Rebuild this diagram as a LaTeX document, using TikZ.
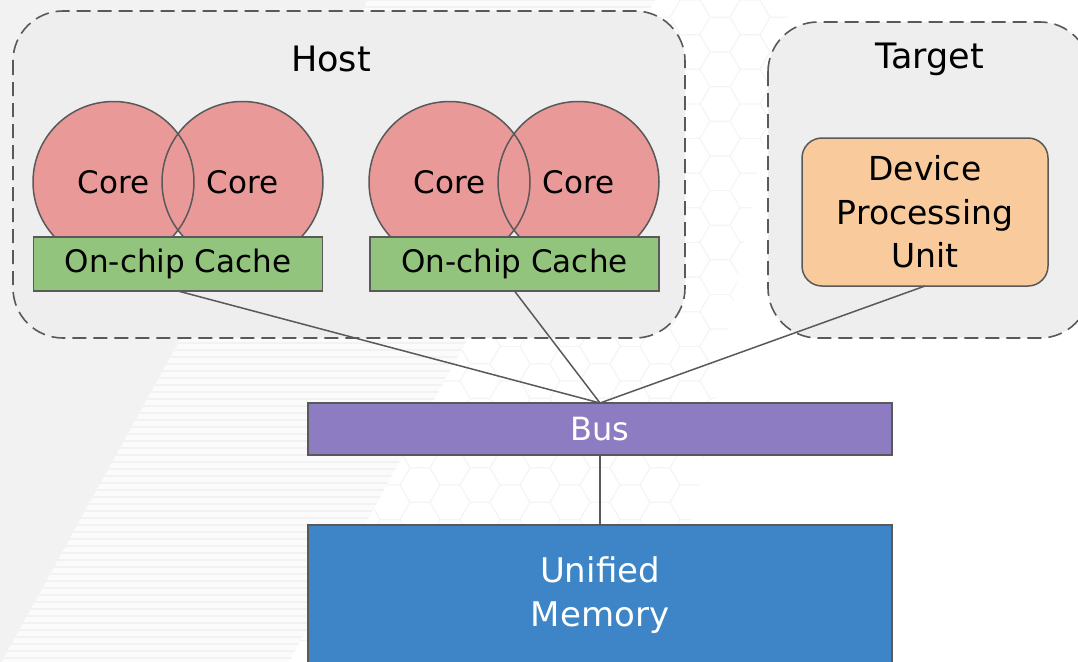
\documentclass[tikz,border=0pt]{standalone}
\usepackage{fontspec}
\setmainfont{DejaVu Sans}
\begin{document}
\begin{tikzpicture}[x=1pt,y=-1pt,
  edge/.style={draw=linegray,line width=1.5pt},
  group/.style={draw=linegray,fill=groupfill,line width=1.6pt,
    dash pattern=on 14pt off 7pt,rounded corners=50pt},
  core/.style={circle,fill=corefill,
    minimum size=161pt,inner sep=0pt,outer sep=0pt},
  corelabel/.style={font=\fontsize{31}{36}\selectfont},
  coreline/.style={draw=linegray,line width=1.5pt},
  cache/.style={rectangle,draw=linegray,fill=cachefill,line width=1.5pt,
    minimum width=289pt,minimum height=54pt,inner sep=0pt,outer sep=0pt,
    font=\fontsize{31}{36}\selectfont},
  title/.style={font=\fontsize{35}{40}\selectfont},
  hexline/.style={draw=hexgray,line width=0.8pt}
]
\definecolor{linegray}{HTML}{595959}
\definecolor{groupfill}{HTML}{EEEEEE}
\definecolor{corefill}{HTML}{EA9999}
\definecolor{cachefill}{HTML}{93C47D}
\definecolor{busfill}{HTML}{8E7CC3}
\definecolor{memfill}{HTML}{3D85C6}
\definecolor{dpufill}{HTML}{F9CB9C}
\definecolor{leftgray}{HTML}{F1F2F1}
\definecolor{stripegray}{HTML}{F2F2F2}
\definecolor{hexgray}{HTML}{F4F4F4}

\useasboundingbox (0,0) rectangle (1078,661);
\fill[white] (0,0) rectangle (1078,661);

% background: grey wedge, striped band, faint honeycomb
\fill[leftgray] (0,0) -- (368,0) -- (0,665) -- cycle;
\begin{scope}
  \clip (368,0) -- (655,0) -- (287,665) -- (0,665) -- cycle;
  \fill[white!70!stripegray] (0,0) rectangle (700,665);
  \foreach \k in {0,...,95} {
    \draw[stripegray,line width=2.5pt] (0,7*\k) -- (700,7*\k);
  }
\end{scope}
\begin{scope}
  \clip (655,0) -- (790,0) -- (665,665) -- (287,665) -- cycle;
  \foreach \i in {0,...,20} {
    \foreach \j in {-1,...,20} {
      \pgfmathsetmacro\cx{240+30*\i}
      \pgfmathsetmacro\cy{34.64*\j+17.32*mod(\i,2)}
      \draw[hexline] (\cx+20,\cy) -- ++(-10,17.32) -- ++(-20,0)
        -- ++(-10,-17.32) -- ++(10,-17.32) -- ++(20,0) -- cycle;
    }
  }
\end{scope}

% host and target groups
\draw[group] (13,11) rectangle (685,338);
\draw[group] (768,22) rectangle (1090,338);
\node[title] (host) at (331,59) {Host};
\node[title] (target) at (930,59) {Target};

% CPU packages: two overlapping cores resting on a shared cache
\node[core] (c1) at (113.5,182) {};
\node[core] (c2) at (242.5,182) {};
\node[core] (c3) at (449.5,182) {};
\node[core] (c4) at (578.5,182) {};
\foreach \c in {c1,c2,c3,c4} {
  \draw[coreline] (\c.center) circle[radius=80.5pt];
  \node[corelabel] (\c-label) at (\c.center) {Core};
}
\node[cache] (cache1) at (178,264) {On-chip Cache};
\node[cache] (cache2) at (514.5,264) {On-chip Cache};

% device
\node[rectangle,rounded corners=20pt,draw=linegray,fill=dpufill,
  line width=1.5pt,minimum width=246pt,minimum height=148pt,
  inner sep=0pt,outer sep=0pt,align=center,
  font=\fontsize{33}{43.5}\selectfont] (dpu) at (925,212)
  {Device\\Processing\\Unit};

% bus and memory
\node[rectangle,draw=linegray,fill=busfill,line width=1.5pt,
  minimum width=584pt,minimum height=52pt,inner sep=0pt,outer sep=0pt,
  text=white,font=\fontsize{32}{36}\selectfont] (bus) at (600,429) {Bus};
\node[rectangle,draw=linegray,fill=memfill,line width=1.5pt,
  minimum width=584pt,minimum height=140pt,inner sep=0pt,outer sep=0pt,
  text=white,align=center,font=\fontsize{34}{43.5}\selectfont]
  (mem) at (600,595) {Unified\\Memory};

% connections
\draw[edge] (cache1.south) -- (bus.north);
\draw[edge] (cache2.south) -- (bus.north);
\draw[edge] (dpu.south) -- (bus.north);
\draw[edge] (bus.south) -- (mem.north);
\end{tikzpicture}
\end{document}
